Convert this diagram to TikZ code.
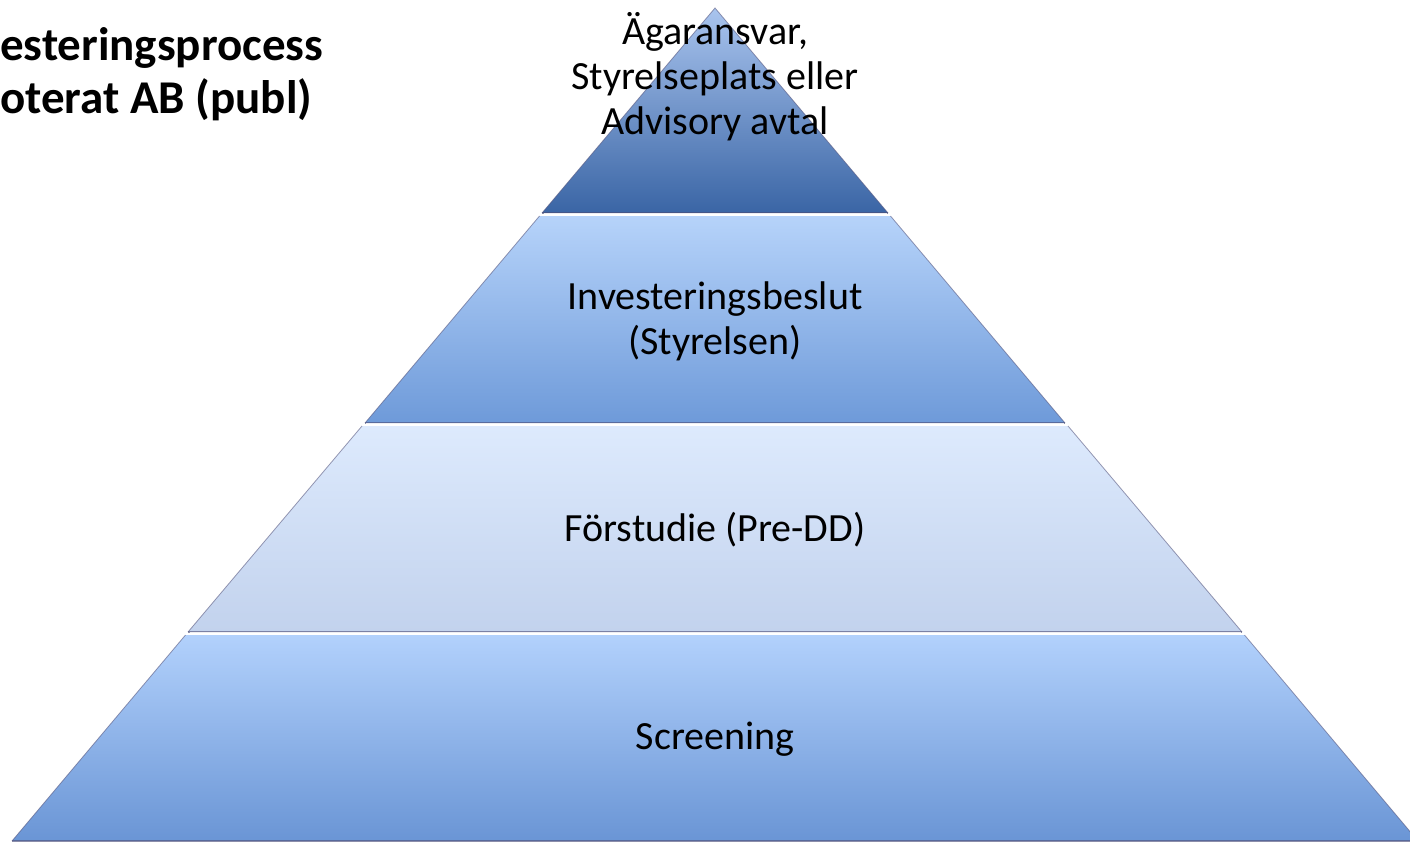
\documentclass[tikz,border=0pt]{standalone}
\usepackage{fontspec}
\setmainfont{Carlito}
\begin{document}
\begin{tikzpicture}[x=1pt,y=-1pt,
  layer/.style={draw=none},
  lbl/.style={anchor=base, align=center, font=\fontsize{40}{45}\selectfont, text=black, inner sep=0pt},
  ttl/.style={anchor=base west, align=left, font=\fontsize{47}{53}\selectfont\bfseries, text=black, inner sep=0pt},
  hilite/.style={white, line width=3pt, opacity=0.85},
  edgeshade/.style={color=black!60!blue!40!gray, line width=2pt, opacity=0.6},
  sideline/.style={color=black!50!blue!30!gray, line width=0.8pt, opacity=0.6}
]
\definecolor{aTop}{HTML}{A9C4EE}\definecolor{aBot}{HTML}{3A65A5}
\definecolor{bTop}{HTML}{B6D3FA}\definecolor{bBot}{HTML}{6E9AD9}
\definecolor{cTop}{HTML}{DDEAFD}\definecolor{cBot}{HTML}{C2D2ED}
\definecolor{dTop}{HTML}{B2D1FC}\definecolor{dBot}{HTML}{6A95D5}
\useasboundingbox (0,0) rectangle (1410,843);
\clip (0,0) rectangle (1410,843);

% layer 1 (apex)
\coordinate (a1) at (715,8);
\coordinate (a2) at (888,213);
\coordinate (a3) at (542,213);
\shade[layer, top color=aTop, bottom color=aBot] (a1) -- (a2) -- (a3) -- cycle;
\draw[edgeshade] (a3) -- (a2);
\draw[sideline] (a3) -- (a1) -- (a2);

% layer 2
\coordinate (b1) at (539.5,216);
\coordinate (b2) at (890.5,216);
\coordinate (b3) at (1065,423);
\coordinate (b4) at (365,423);
\shade[layer, top color=bTop, bottom color=bBot] (b1) -- (b2) -- (b3) -- (b4) -- cycle;
\draw[hilite] ([xshift=4pt,yshift=2pt]b1) -- ([xshift=-4pt,yshift=2pt]b2);
\draw[edgeshade] (b4) -- (b3);
\draw[sideline] (b4) -- (b1) (b2) -- (b3);

% layer 3
\coordinate (c1) at (362,426);
\coordinate (c2) at (1068,426);
\coordinate (c3) at (1242,632);
\coordinate (c4) at (188,632);
\shade[layer, top color=cTop, bottom color=cBot] (c1) -- (c2) -- (c3) -- (c4) -- cycle;
\draw[hilite] ([xshift=4pt,yshift=2pt]c1) -- ([xshift=-4pt,yshift=2pt]c2);
\draw[edgeshade] (c4) -- (c3);
\draw[sideline] (c4) -- (c1) (c2) -- (c3);

% layer 4
\coordinate (d1) at (185.5,635);
\coordinate (d2) at (1244.5,635);
\coordinate (d3) at (1418,841);
\coordinate (d4) at (12,841);
\shade[layer, top color=dTop, bottom color=dBot] (d1) -- (d2) -- (d3) -- (d4) -- cycle;
\draw[hilite] ([xshift=4pt,yshift=2pt]d1) -- ([xshift=-4pt,yshift=2pt]d2);
\draw[edgeshade] (d4) -- (d3);
\draw[sideline] (d4) -- (d1) (d2) -- (d3);

% labels (anchor base = last line's baseline)
\node[lbl] (t1) at (715,134) {Ägaransvar,\\Styrelseplats eller\\Advisory avtal};
\node[lbl] (t2) at (715,354) {Investeringsbeslut\\(Styrelsen)};
\node[lbl] (t3) at (715,541) {Förstudie (Pre-DD)};
\node[lbl] (t4) at (715,749) {Screening};

% title
\node[ttl] (title) at (0,113) {esteringsprocess\\oterat AB (publ)};
\end{tikzpicture}
\end{document}
